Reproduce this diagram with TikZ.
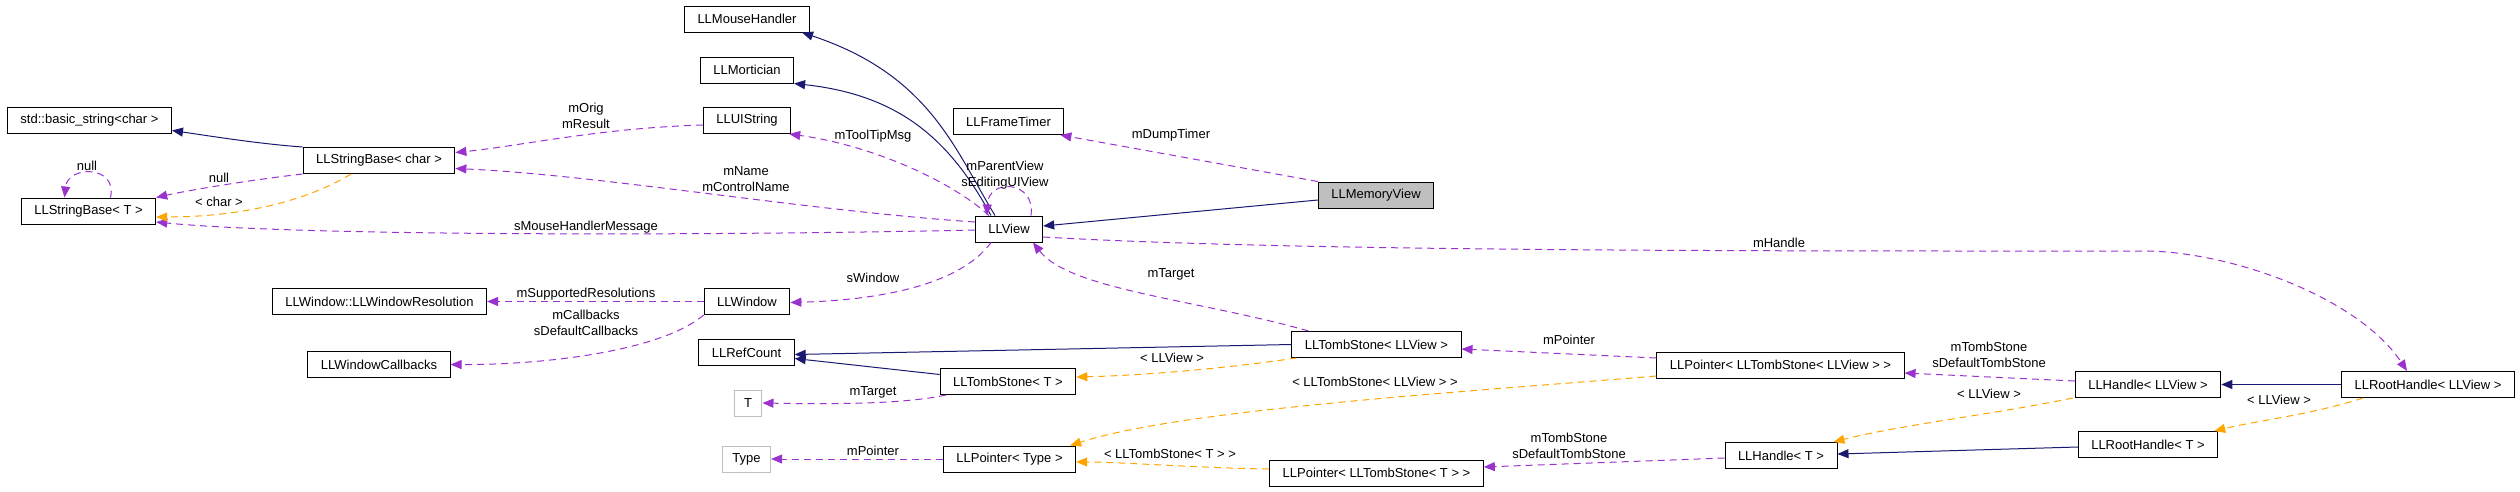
\documentclass[tikz,border=0pt]{standalone}
\usepackage{fontspec}
\setmainfont{Liberation Sans}
\usetikzlibrary{arrows.meta}
\definecolor{inhblue}{HTML}{191970}
\definecolor{usepurple}{HTML}{9A32CD}
\definecolor{tplorange}{HTML}{FFA500}
\definecolor{curgray}{HTML}{BFBFBF}
\begin{document}
\begin{tikzpicture}[x=1pt,y=-1pt,font=\fontsize{13}{16}\selectfont,
    cls/.style={draw=black,line width=1pt,inner xsep=13pt,inner ysep=0pt,minimum height=26pt},
    cur/.style={cls,fill=curgray},
    ext/.style={cls,draw=curgray,inner xsep=10pt},
    inh/.style={draw=inhblue,line width=1pt,-{Triangle[length=11pt,width=9pt]}},
    use/.style={draw=usepurple,line width=1pt,dash pattern=on 7pt off 5pt,-{Triangle[length=11pt,width=9pt]}},
    tpl/.style={draw=tplorange,line width=1pt,dash pattern=on 7pt off 5pt,-{Triangle[length=11pt,width=9pt]}},
    lbl/.style={inner sep=0pt,align=center}]
\useasboundingbox (0,0) rectangle (2520,491);
% classes
\node[cls] (mouse) at (747,19) {LLMouseHandler};
\node[cls] (mort) at (747,70) {LLMortician};
\node[cls] (uistr) at (747,120.5) {LLUIString};
\node[cls] (ftimer) at (1008.5,121.5) {LLFrameTimer};
\node[cur] (memview) at (1376,195) {LLMemoryView};
\node[cls] (view) at (1009,229) {LLView};
\node[cls] (strbase) at (89.5,120.5) {std::basic\_string<char >};
\node[cls] (sbchar) at (379,160.5) {LLStringBase< char >};
\node[cls] (sbT) at (88.5,211) {LLStringBase< T >};
\node[cls] (winres) at (379.5,301.5) {LLWindow::LLWindowResolution};
\node[cls] (window) at (747,301.5) {LLWindow};
\node[cls] (wincb) at (379,364.5) {LLWindowCallbacks};
\node[cls] (refcount) at (746.5,352.5) {LLRefCount};
\node[cls] (tsview) at (1376.5,344.5) {LLTombStone< LLView >};
\node[cls] (tsT) at (1008,381.5) {LLTombStone< T >};
\node[ext] (T) at (748,403) {T};
\node[ext] (Type) at (746.5,459) {Type};
\node[cls] (ptype) at (1009.5,459) {LLPointer< Type >};
\node[cls] (ptsview) at (1780.5,365) {LLPointer< LLTombStone< LLView > >};
\node[cls] (ptsT) at (1376.5,473) {LLPointer< LLTombStone< T > >};
\node[cls] (hview) at (2148,384.5) {LLHandle< LLView >};
\node[cls] (rhview) at (2428,384.5) {LLRootHandle< LLView >};
\node[cls] (rhT) at (2148,444.5) {LLRootHandle< T >};
\node[cls] (hT) at (1781,455.5) {LLHandle< T >};
\coordinate (hbend) at (2150,251);
% inheritance
\draw[inh] ([yshift=-5pt]memview.west) -- ([yshift=3pt]view.east);
\draw[inh] ([xshift=-14pt]view.north) .. controls (955,150) and (930,75) .. ([xshift=-8pt]mouse.south east);
\draw[inh] ([xshift=-18pt]view.north) .. controls (950,140) and (900,95) .. (mort.south east);
\draw[inh] (sbchar.north west) .. controls (260,144) and (210,136) .. ([yshift=-10pt]strbase.east);
\draw[inh] (tsview.west) -- ([yshift=-2pt]refcount.east);
\draw[inh] ([yshift=7pt]tsT.west) -- ([yshift=-6pt]refcount.east);
\draw[inh] (rhview.west) -- (hview.east);
\draw[inh] ([yshift=-2.5pt]rhT.west) -- ([yshift=1.5pt]hT.east);
% members
\draw[use] (memview.north west) -- ([xshift=-4pt]ftimer.south east);
\draw[use] ([xshift=-20pt]view.north) .. controls (950,180) and (870,145) .. ([xshift=-2pt]uistr.south east);
\draw[use] ([xshift=22pt]view.north) .. controls (1036,180) and (988,178) .. ([xshift=-22pt]view.north);
\draw[use] ([yshift=7pt]view.west) .. controls (800,210) and (600,175) .. ([yshift=-8pt]sbchar.east);
\draw[use] ([yshift=-4.5pt]uistr.west) .. controls (600,128) and (520,146) .. ([yshift=8pt]sbchar.east);
\draw[use] ([yshift=-1pt]view.west) .. controls (700,236) and (300,236) .. ([yshift=-11pt]sbT.east);
\draw[use] (sbchar.south west) .. controls (250,180) and (190,190) .. (sbT.north east);
\draw[use] ([xshift=22pt]sbT.north) .. controls (118,165) and (68,165) .. ([xshift=-24pt]sbT.north);
\draw[use] ([xshift=-18pt]view.south) .. controls (960,285) and (880,300) .. ([yshift=-1pt]window.east);
\draw[use] (window.west) -- (winres.east);
\draw[use] (window.south west) .. controls (660,352) and (540,365) .. (wincb.east);
\draw[use] ([xshift=-68pt]tsview.north) .. controls (1200,300) and (1070,290) .. ([xshift=24pt]view.south);
\draw[use] ([xshift=-62pt]tsT.south) .. controls (900,405) and (820,404) .. (T.east);
\draw[use] (ptype.west) -- (Type.east);
\draw[use] ([yshift=7pt]ptsview.west) -- ([yshift=-4.5pt]tsview.east);
\draw[use] ([yshift=3.5pt]hview.west) -- ([yshift=-8pt]ptsview.east);
\draw[use] ([yshift=-2.5pt]hT.west) -- ([yshift=6pt]ptsT.east);
\draw[use] ([yshift=-8pt]view.east) .. controls (1300,252) and (1800,251) .. (hbend)
    .. controls (2240,254) and (2360,300) .. ([xshift=-21pt]rhview.north);
% templates
\draw[tpl] ([xshift=-28pt]sbchar.south) .. controls (300,205) and (230,217) .. ([yshift=-6pt]sbT.east);
\draw[tpl] ([xshift=-80pt]tsview.south) .. controls (1200,372) and (1120,376) .. ([yshift=4.5pt]tsT.east);
\draw[tpl] ([yshift=-11pt]ptsview.west) .. controls (1450,393) and (1180,410) .. ([xshift=-6pt]ptype.north east);
\draw[tpl] ([yshift=4pt]ptsT.west) .. controls (1200,468) and (1120,462) .. ([yshift=-3pt]ptype.east);
\draw[tpl] ([xshift=-2pt]hview.south west) .. controls (1990,415) and (1900,425) .. ([xshift=-4pt]hT.north east);
\draw[tpl] ([xshift=22pt]rhview.south west) .. controls (2310,415) and (2260,420) .. ([xshift=-4pt]rhT.north east);
% labels
\node[lbl] (lnullself) at (87,166) {null};
\node[lbl] (lnull) at (219,178) {null};
\node[lbl] (lchar) at (219,202) {< char >};
\node[lbl] (lorig) at (586,116) {mOrig\\mResult};
\node[lbl] (lmouse) at (586,227) {sMouseHandlerMessage};
\node[lbl] (lname) at (746,179) {mName\\mControlName};
\node[lbl] (ltip) at (873,136) {mToolTipMsg};
\node[lbl] (lparent) at (1005,175) {mParentView\\sEditingUIView};
\node[lbl] (ldump) at (1171,135) {mDumpTimer};
\node[lbl] (lhandle) at (1779,243) {mHandle};
\node[lbl] (lres) at (586,294) {mSupportedResolutions};
\node[lbl] (lcb) at (586,323) {mCallbacks\\sDefaultCallbacks};
\node[lbl] (lwin) at (873,278) {sWindow};
\node[lbl] (ltargetv) at (1171,274) {mTarget};
\node[lbl] (ltsv) at (1172,358) {< LLView >};
\node[lbl] (ltargetT) at (873,392) {mTarget};
\node[lbl] (lptsv) at (1375,382) {< LLTombStone< LLView > >};
\node[lbl] (lptype) at (873,451) {mPointer};
\node[lbl] (lptsT) at (1170,454) {< LLTombStone< T > >};
\node[lbl] (lpview) at (1569,340) {mPointer};
\node[lbl] (ltombv) at (1989,355) {mTombStone\\sDefaultTombStone};
\node[lbl] (lhv) at (1989,394) {< LLView >};
\node[lbl] (lrhv) at (2279,400) {< LLView >};
\node[lbl] (ltombT) at (1569,445.5) {mTombStone\\sDefaultTombStone};
\end{tikzpicture}
\end{document}
